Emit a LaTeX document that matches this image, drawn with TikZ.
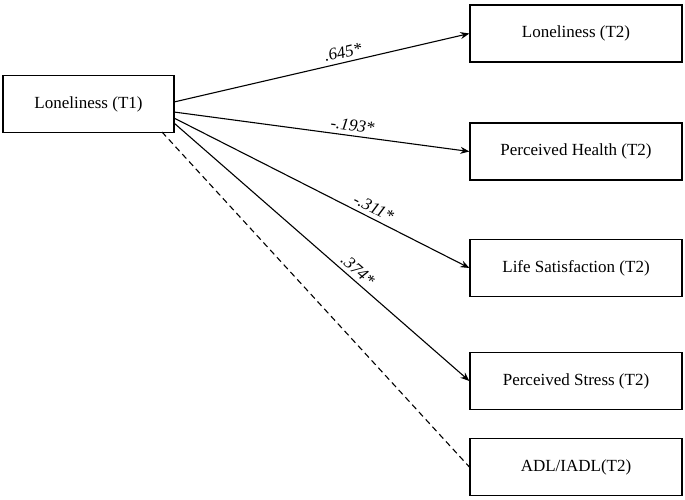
\documentclass[tikz,border=0pt]{standalone}
\usepackage{fontspec}
\setmainfont{Liberation Serif}
\usetikzlibrary{arrows.meta}
\begin{document}
\begin{tikzpicture}[x=1pt,y=-1pt,
  box/.style={draw,line width=1.2pt,minimum height=57pt,inner sep=0pt,font=\fontsize{17}{19}\selectfont},
  rbox/.style={box,minimum width=212pt},
  arr/.style={line width=1.1pt,-{Stealth[length=9pt,width=7pt]}},
  lab/.style={font=\fontsize{17}{19}\selectfont\itshape,inner sep=1pt}]
\useasboundingbox (0,0) rectangle (685,499);
\node[box,minimum width=171pt] (t1) at (88.5,104) {Loneliness (T1)};
\node[rbox] (l2) at (576,33.5) {Loneliness (T2)};
\node[rbox] (h2) at (576,151.5) {Perceived Health (T2)};
\node[rbox] (s2) at (576,268) {Life Satisfaction (T2)};
\node[rbox] (p2) at (576,381) {Perceived Stress (T2)};
\node[rbox] (a2) at (576,467) {ADL/IADL(T2)};
\coordinate (o1) at (174,102);
\coordinate (o2) at (174,112);
\coordinate (o3) at (174,118);
\coordinate (o4) at (174,123);
\coordinate (o5) at (162,132);
\draw[arr] (o1) -- (l2.west) node[lab,pos=0.58,above=3pt,sloped] {.645*};
\draw[arr] (o2) -- (h2.west) node[lab,pos=0.6,above=3pt,sloped] {-.193*};
\draw[arr] (o3) -- (s2.west) node[lab,pos=0.66,above=3pt,sloped] {-.311*};
\draw[arr] (o4) -- (p2.west) node[lab,pos=0.6,above=3pt,sloped] {.374*};
\draw[line width=1.1pt,dash pattern=on 6pt off 4pt] (o5) -- (a2.west);
\end{tikzpicture}
\end{document}
